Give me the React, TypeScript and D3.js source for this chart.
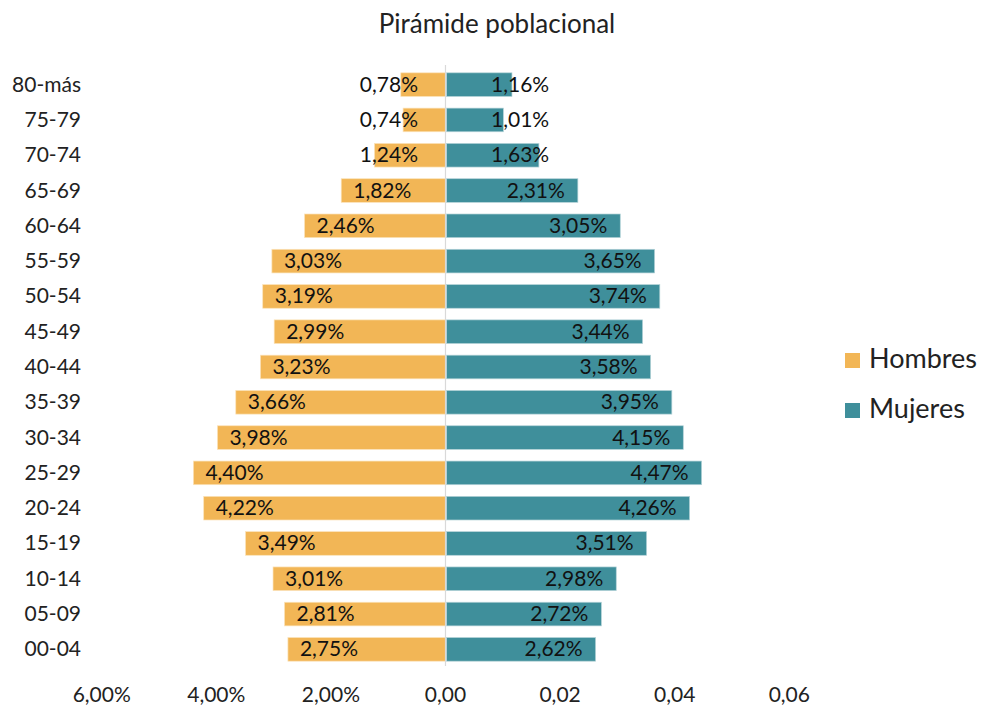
import React from "react";
import * as d3 from "d3";

const categories = ["00-04","05-09","10-14","15-19","20-24","25-29","30-34","35-39","40-44","45-49","50-54","55-59","60-64","65-69","70-74","75-79","80-más"];
const hombres = [2.75,2.81,3.01,3.49,4.22,4.40,3.98,3.66,3.23,2.99,3.19,3.03,2.46,1.82,1.24,0.74,0.78];
const mujeres = [2.62,2.72,2.98,3.51,4.26,4.47,4.15,3.95,3.58,3.44,3.74,3.65,3.05,2.31,1.63,1.01,1.16];
const tickValues = [-0.06,-0.04,-0.02,0,0.02,0.04,0.06];
const tickLabels = ["6,00%","4,00%","2,00%","0,00","0,02","0,04","0,06"];
const seriesNames = ["Hombres","Mujeres"];

const W = 981, H = 707;
const ORANGE = "#F2B656";
const TEAL = "#3F8F9B";
const FONT = "Lato, 'Open Sans', sans-serif";

export default function App() {
  const x = d3.scaleLinear().domain([-0.06, 0.06]).range([101.7, 789.3]);
  const y = d3.scaleBand<string>().domain([...categories].reverse()).range([67, 667]).paddingInner(0.33).paddingOuter(0.165);
  const fmt = (v: number) => v.toFixed(2).replace(".", ",") + "%";
  const x0 = x(0);
  const bh = y.bandwidth();
  return (
    <svg width={W} height={H} style={{ position: "absolute", left: 0, top: 0, background: "#fff" }} fontFamily={FONT}>
      <text x={497} y={33} textAnchor="middle" fontSize={26} fill="#222">Pirámide poblacional</text>
      {categories.map((c, i) => {
        const yc = (y(c) as number) + bh / 2;
        const hv = hombres[i] / 100, mv = mujeres[i] / 100;
        const hl = x(-hv), mr = x(mv);
        const hSmall = hombres[i] < 1.7, mSmall = mujeres[i] < 1.7;
        return (
          <g key={c}>
            <rect x={hl} y={y(c)} width={x0 - hl} height={bh} fill={ORANGE} stroke="#fbe3bb" strokeWidth={0.7} />
            <rect x={x0 + 1} y={y(c)} width={mr - x0 - 1} height={bh} fill={TEAL} stroke="#b5d3d8" strokeWidth={0.7} />
            <text x={81} y={yc + 7} textAnchor="end" fontSize={21} fill="#222">{c}</text>
            <text x={hSmall ? 418 : hl + 12} y={yc + 7} textAnchor={hSmall ? "end" : "start"} fontSize={21} fill="#111">{fmt(hombres[i])}</text>
            <text x={mSmall ? 491 : mr - 13} y={yc + 7} textAnchor={mSmall ? "start" : "end"} fontSize={21} fill="#111">{fmt(mujeres[i])}</text>
          </g>
        );
      })}
      <line x1={x0} x2={x0} y1={65} y2={666} stroke="#d9d9d9" strokeWidth={1.2} />
      {tickValues.map((t, i) => (
        <text key={t} x={x(t)} y={702} textAnchor="middle" fontSize={21} fill="#222">{tickLabels[i]}</text>
      ))}
      {seriesNames.map((s, i) => (
        <g key={s}>
          <rect x={845} y={353 + i * 50} width={15} height={15} fill={i === 0 ? ORANGE : TEAL} />
          <text x={869} y={368 + i * 50} fontSize={27} fill="#222">{s}</text>
        </g>
      ))}
    </svg>
  );
}
